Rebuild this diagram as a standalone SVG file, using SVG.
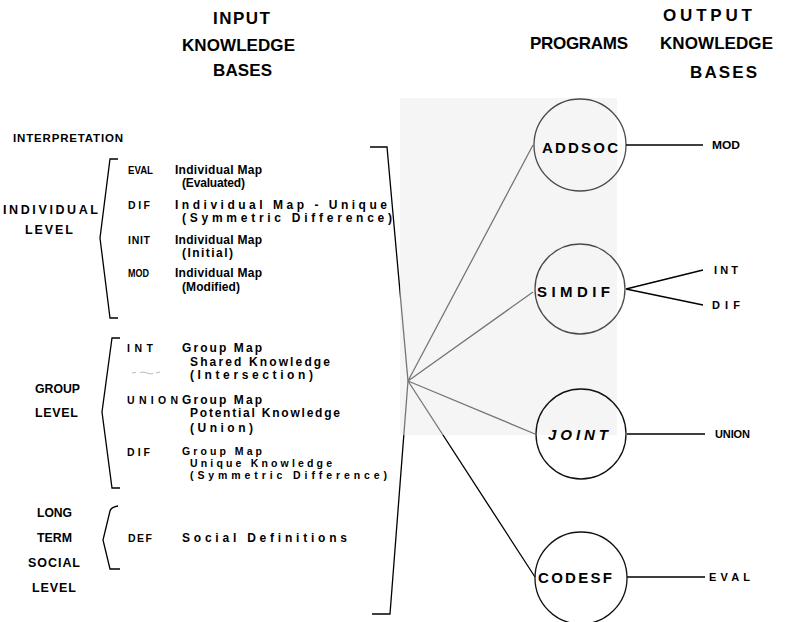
<svg xmlns="http://www.w3.org/2000/svg" width="796" height="622" viewBox="0 0 796 622">
<style>
text{font-family:"Liberation Sans",Arial,sans-serif;font-weight:bold;fill:#000}
.h{font-size:17px}
.lv{font-size:12.5px}
.it{font-size:11.5px}
.c{font-size:10.5px}
.d{font-size:12px}
.ds{font-size:10.5px}
.p{font-size:15px}
.o{font-size:11px}
.ln{fill:none;stroke:#000;stroke-width:1.3}
.node circle{fill:none;stroke:#111;stroke-width:1.3}
</style>
<rect width="796" height="622" fill="#fff"/>
<g id="headers">
<text class="h" x="213" y="24" textLength="57" lengthAdjust="spacing">INPUT</text>
<text class="h" x="182" y="51" textLength="113" lengthAdjust="spacing">KNOWLEDGE</text>
<text class="h" x="213" y="76" textLength="59" lengthAdjust="spacing">BASES</text>
<text class="h" x="530" y="49" textLength="98" lengthAdjust="spacing">PROGRAMS</text>
<text class="h" x="663" y="21" textLength="89" lengthAdjust="spacing">OUTPUT</text>
<text class="h" x="660" y="49" textLength="113" lengthAdjust="spacing">KNOWLEDGE</text>
<text class="h" x="690" y="78" textLength="67" lengthAdjust="spacing">BASES</text>
<text class="it" x="13" y="142" textLength="110" lengthAdjust="spacing">INTERPRETATION</text>
</g>
<g id="individual-level">
<text class="lv" x="3" y="214" textLength="95" lengthAdjust="spacing">INDIVIDUAL</text>
<text class="lv" x="25" y="234" textLength="48" lengthAdjust="spacing">LEVEL</text>
<path class="ln" d="M118,159 H110 L100,238 L110,318 H118"/>
<text class="c" x="128" y="174" textLength="25" lengthAdjust="spacingAndGlyphs">EVAL</text>
<text class="d" x="175" y="174" textLength="87" lengthAdjust="spacing">Individual Map</text>
<text class="d" x="182" y="187" textLength="63" lengthAdjust="spacing">(Evaluated)</text>
<text class="c" x="128" y="209" textLength="22" lengthAdjust="spacing">DIF</text>
<text class="d" x="175" y="209" textLength="212" lengthAdjust="spacing">Individual Map - Unique</text>
<text class="d" x="182" y="222" textLength="210" lengthAdjust="spacing">(Symmetric Difference)</text>
<text class="c" x="128" y="244" textLength="22" lengthAdjust="spacing">INIT</text>
<text class="d" x="175" y="244" textLength="87" lengthAdjust="spacing">Individual Map</text>
<text class="d" x="182" y="257" textLength="51" lengthAdjust="spacing">(Initial)</text>
<text class="c" x="128" y="277" textLength="21" lengthAdjust="spacingAndGlyphs">MOD</text>
<text class="d" x="175" y="277" textLength="87" lengthAdjust="spacing">Individual Map</text>
<text class="d" x="182" y="291" textLength="58" lengthAdjust="spacing">(Modified)</text>
</g>
<g id="group-level">
<text class="lv" x="35" y="393" textLength="45" lengthAdjust="spacingAndGlyphs">GROUP</text>
<text class="lv" x="35" y="417" textLength="43" lengthAdjust="spacing">LEVEL</text>
<path class="ln" d="M120,338 H112 L102,412 L112,488 H120"/>
<text class="c" x="127" y="352" textLength="26" lengthAdjust="spacing">INT</text>
<text class="d" x="182" y="352" textLength="80" lengthAdjust="spacing">Group Map</text>
<text class="d" x="190" y="366" textLength="140" lengthAdjust="spacing">Shared Knowledge</text>
<text class="d" x="190" y="379" textLength="123" lengthAdjust="spacing">(Intersection)</text>
<path d="M132,373 l4,-0.5 M140,372.5 q4,-1 7,0.5 t6,0.5 M156,373 l4,-1" fill="none" stroke="#aaa" stroke-width="0.8"/>
<text class="c" x="127" y="404" textLength="51" lengthAdjust="spacing">UNION</text>
<text class="d" x="182" y="404" textLength="80" lengthAdjust="spacing">Group Map</text>
<text class="d" x="190" y="417" textLength="150" lengthAdjust="spacing">Potential Knowledge</text>
<text class="d" x="190" y="432" textLength="63" lengthAdjust="spacing">(Union)</text>
<text class="c" x="127" y="456" textLength="23" lengthAdjust="spacing">DIF</text>
<text class="ds" x="182" y="455" textLength="80" lengthAdjust="spacing">Group Map</text>
<text class="ds" x="190" y="467" textLength="142" lengthAdjust="spacing">Unique Knowledge</text>
<text class="ds" x="190" y="479" textLength="197" lengthAdjust="spacing">(Symmetric Difference)</text>
</g>
<g id="social-level">
<text class="lv" x="37" y="517" textLength="35" lengthAdjust="spacingAndGlyphs">LONG</text>
<text class="lv" x="37" y="542" textLength="35" lengthAdjust="spacingAndGlyphs">TERM</text>
<text class="lv" x="28" y="567" textLength="52" lengthAdjust="spacing">SOCIAL</text>
<text class="lv" x="32" y="592" textLength="44" lengthAdjust="spacing">LEVEL</text>
<path class="ln" d="M118,506 Q111,507 110,511 L103,540 L110,569 H120"/>
<text class="c" x="128" y="542" textLength="24" lengthAdjust="spacing">DEF</text>
<text class="d" x="182" y="542" textLength="165" lengthAdjust="spacing">Social Definitions</text>
</g>
<g id="connectors">
<path class="ln" d="M370,147 H387 L408,381 L390,614 H372"/>
<path class="ln" d="M408,381 L533,145 M408,381 L533,292 M408,381 L535,434 M408,381 L535,577"/>
<path class="ln" d="M626,145 H703 M626,289 L703,270 M626,289 L703,305 M627,434 H705 M627,577 H705"/>
</g>
<rect id="shade" x="400" y="98" width="217" height="337" fill="#ececec" fill-opacity="0.5"/>
<g id="node-addsoc" class="node">
<circle cx="580" cy="145" r="46" stroke-opacity="0.75"/>
<text class="p" x="542" y="153" textLength="76" lengthAdjust="spacing">ADDSOC</text>
</g>
<g id="node-simdif" class="node">
<circle cx="580" cy="289" r="45" stroke-opacity="0.75"/>
<text class="p" x="537" y="297" textLength="73" lengthAdjust="spacing">SIMDIF</text>
</g>
<g id="node-joint" class="node">
<circle cx="581" cy="434" r="45"/>
<text class="p" x="548" y="440" textLength="60" lengthAdjust="spacing" font-style="italic" font-weight="normal">JOINT</text>
</g>
<g id="node-codesf" class="node">
<circle cx="581" cy="578" r="46"/>
<text class="p" x="538" y="583" textLength="74" lengthAdjust="spacing">CODESF</text>
</g>
<g id="outputs">
<text class="o" x="712" y="149" textLength="28" lengthAdjust="spacingAndGlyphs">MOD</text>
<text class="o" x="714" y="274" textLength="24" lengthAdjust="spacing">INT</text>
<text class="o" x="712" y="309" textLength="28" lengthAdjust="spacing">DIF</text>
<text class="o" x="715" y="438" textLength="35" lengthAdjust="spacing">UNION</text>
<text class="o" x="709" y="581" textLength="41" lengthAdjust="spacing">EVAL</text>
</g>
</svg>
